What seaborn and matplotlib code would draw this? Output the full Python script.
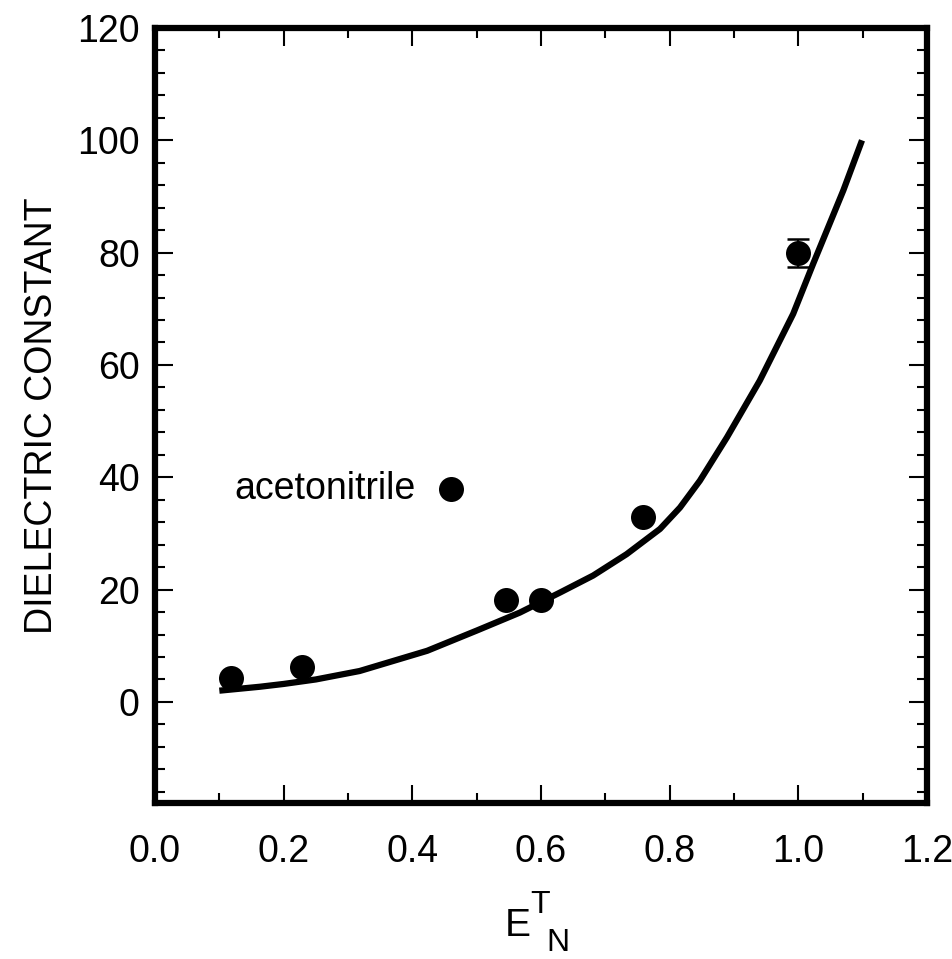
import numpy as np
import pandas as pd
import matplotlib
matplotlib.use("Agg")
import matplotlib.pyplot as plt
import seaborn as sns
from matplotlib.ticker import MultipleLocator

# Data
point_x = [0.118, 0.228, 0.46, 0.545, 0.60, 0.758, 1.0]
point_y = [4.3, 6.2, 38.0, 18.2, 18.2, 33.0, 80.0]
err_x = [1.0]
err_y = [80.0]
err_size = [2.5]

curve_x = [0.10, 0.163, 0.20, 0.25, 0.318, 0.423, 0.50, 0.567, 0.630, 0.681,
           0.733, 0.785, 0.816, 0.847, 0.889, 0.940, 0.992, 1.023, 1.070, 1.099]
curve_y = [2.0, 2.7, 3.2, 4.0, 5.5, 9.1, 12.7, 15.9, 19.5, 22.5,
           26.3, 30.8, 34.6, 39.4, 47.1, 57.2, 69.1, 78.0, 91.1, 100.0]

x_ticks = [0.0, 0.2, 0.4, 0.6, 0.8, 1.0, 1.2]
x_tick_labels = ["0.0", "0.2", "0.4", "0.6", "0.8", "1.0", "1.2"]
y_ticks = [0, 20, 40, 60, 80, 100, 120]
y_tick_labels = ["0", "20", "40", "60", "80", "100", "120"]

sns.set_theme(style="ticks")
plt.rcParams["font.family"] = ["Liberation Sans", "DejaVu Sans"]
plt.rcParams["text.color"] = "black"
plt.rcParams["axes.labelcolor"] = "black"

fig = plt.figure(figsize=(9.53, 9.59), dpi=100)
ax = fig.add_axes([155/953, 1-803/959, (927-155)/953, (803-28)/959])

curve_df = pd.DataFrame({"x": curve_x, "y": curve_y})
pts_df = pd.DataFrame({"x": point_x, "y": point_y})

sns.lineplot(data=curve_df, x="x", y="y", ax=ax, color="black", linewidth=4.5,
             sort=False, estimator=None, solid_capstyle="butt",
             solid_joinstyle="round")
ax.errorbar(err_x, err_y, yerr=err_size, fmt="none", ecolor="black",
            elinewidth=1.5, capsize=8, capthick=1.8, zorder=3)
sns.scatterplot(data=pts_df, x="x", y="y", ax=ax, color="black", s=18**2,
                edgecolor="black", linewidth=0, zorder=4)

ax.set_xlim(0, 1.2)
ax.set_ylim(-18, 120)
ax.set_xticks(x_ticks)
ax.set_xticklabels(x_tick_labels)
ax.set_yticks(y_ticks)
ax.set_yticklabels(y_tick_labels)
ax.xaxis.set_minor_locator(MultipleLocator(0.1))
ax.yaxis.set_minor_locator(MultipleLocator(4))

for s in ax.spines.values():
    s.set_visible(True)
    s.set_linewidth(4.5)
    s.set_color("black")

ax.tick_params(which="major", direction="in", length=13, width=1.5,
               top=True, right=True, labelsize=27, pad=11, colors="black")
ax.tick_params(which="minor", direction="in", length=7, width=1.5,
               top=True, right=True, colors="black")
ax.tick_params(axis="x", which="major", pad=22)

ax.set_xlabel("")
ax.set_ylabel("DIELECTRIC CONSTANT", fontsize=27, labelpad=12, color="black")

ax.text(0.405, 38, "acetonitrile", fontsize=27, ha="right", va="center",
        color="black")

# x label: E with superscript T and subscript N
fig.text(518/953, 1-926/959, "E", fontsize=28, ha="center", va="center", color="black")
fig.text(540/953, 1-905/959, "T", fontsize=23, ha="center", va="center", color="black")
fig.text(558/953, 1-943/959, "N", fontsize=23, ha="center", va="center", color="black")

fig.savefig("out.png", dpi=100)
